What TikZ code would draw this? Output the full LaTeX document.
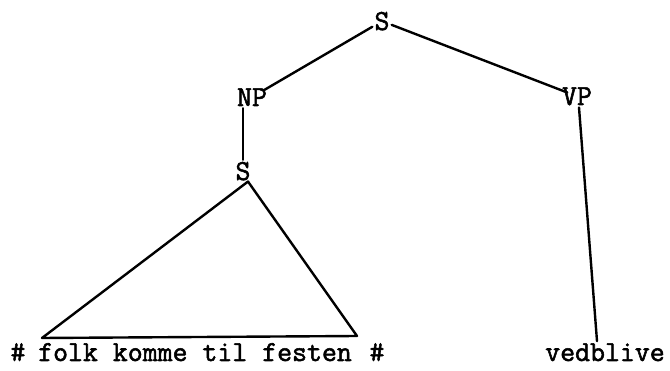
\documentclass[tikz,border=0pt]{standalone}
\usepackage{fontspec}
\newfontfamily\typew[FakeBold=1.8]{Latin Modern Mono}
\begin{document}
\begin{tikzpicture}[x=1pt,y=-1pt,
  lab/.style={font=\fontsize{29}{31}\typew, inner sep=2pt, anchor=base},
  edge/.style={line width=2.4pt, line cap=round}]
\useasboundingbox (0,0) rectangle (670,371);
% category labels
\node[lab] (S)  at (382,30)  {S};
\node[lab] (NP) at (252,106) {NP};
\node[lab] (VP) at (577,105) {VP};
\node[lab] (S2) at (243,180) {S};
% terminal string
\node[lab, anchor=base west, inner sep=0pt] (str) at (38,361) {folk komme til festen};
\node[lab] (hl) at (18,361) {\#};
\node[lab] (hr) at (377,361) {\#};
\node[lab] (vb) at (605,361) {vedblive};
% triangle corners
\coordinate (tl) at (42,338);
\coordinate (tr) at (357,336);
% branches
\draw[edge, shorten >=-6pt] (S) -- (NP);
\draw[edge, shorten >=-8pt] (S) -- (VP);
\draw[edge] (S2.north |- NP.south) -- (S2.north);
\draw[edge] ([xshift=2pt]VP.south) -- ([xshift=-8pt]vb.north);
\draw[edge, line join=round] ([xshift=5pt,yshift=1pt]S2.south) -- (tl) -- (tr) -- cycle;
\end{tikzpicture}
\end{document}
